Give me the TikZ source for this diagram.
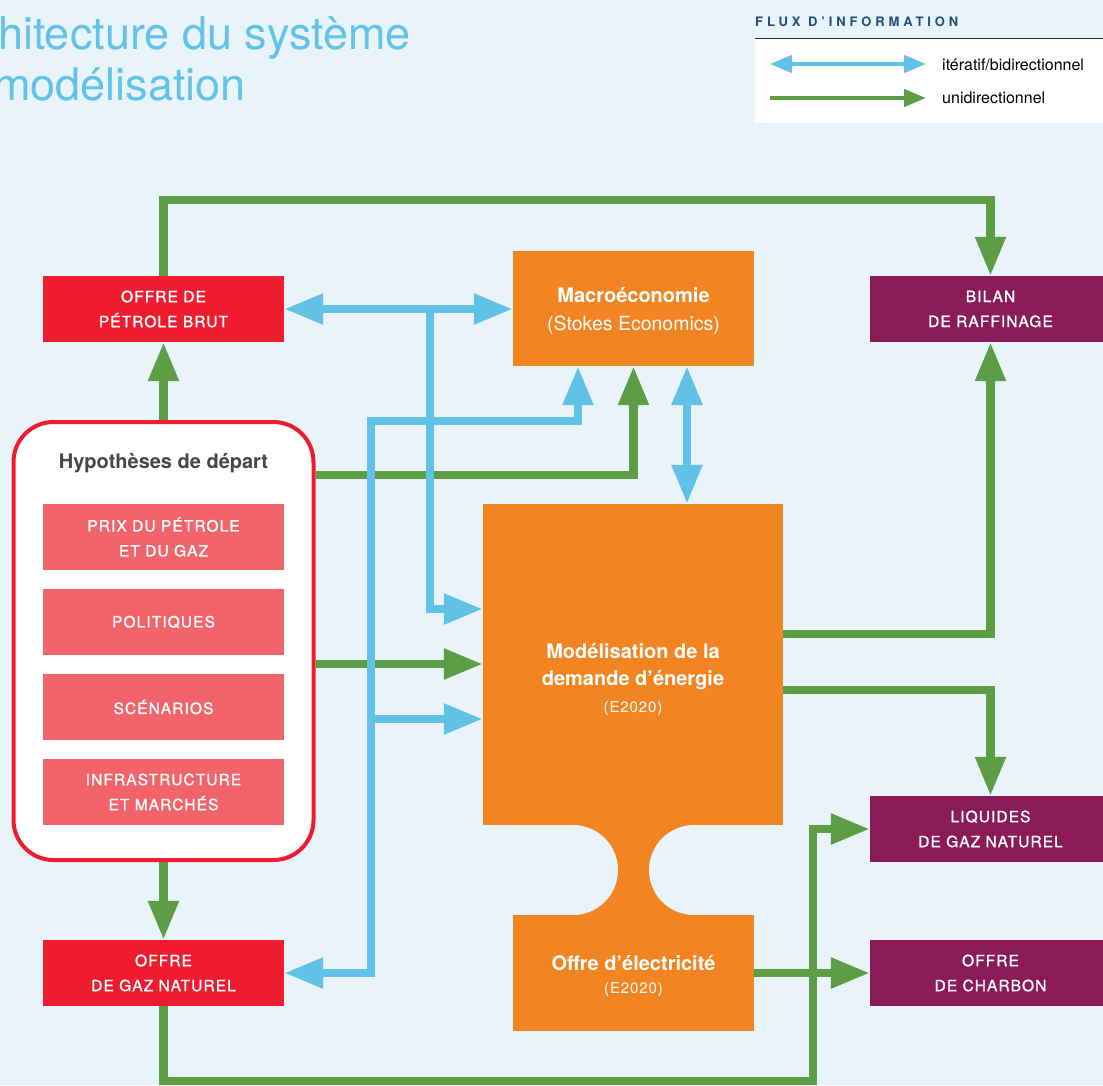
\documentclass[tikz,border=0pt]{standalone}
\usepackage{fontspec}
\setmainfont{TeX Gyre Heros}
\newfontfamily\capsf[LetterSpace=7,FakeBold=1.2]{TeX Gyre Heros}
\newfontfamily\legf[LetterSpace=30]{TeX Gyre Heros}
\newfontfamily\smallf[LetterSpace=6]{TeX Gyre Heros}
\usetikzlibrary{arrows.meta}
\definecolor{bgc}{HTML}{E8F3FA}
\definecolor{bluec}{HTML}{61C1E6}
\definecolor{greenc}{HTML}{5C9D45}
\definecolor{redc}{HTML}{EE1C2E}
\definecolor{pinkc}{HTML}{F2636A}
\definecolor{orangec}{HTML}{F38422}
\definecolor{purplec}{HTML}{8A1B56}
\definecolor{titlec}{HTML}{62C3E8}
\definecolor{legc}{HTML}{1E4F78}
\definecolor{hypc}{HTML}{464646}
\tikzset{
  box/.style={inner sep=0pt, text=white, align=center, minimum width=241pt, minimum height=66pt},
  capsbox/.style={box, font=\capsf\fontsize{15.5}{25}\selectfont},
  bigtxt/.style={text=white, align=center, inner sep=0pt},
  tip/.style={-{Triangle[length=39pt,width=29pt]}},
  gline/.style={draw=greenc, line width=8.5pt},
  bline/.style={draw=bluec, line width=8.5pt},
  garrow/.style={gline, tip},
  barrow/.style={bline, tip},
  bboth/.style={bline, {Triangle[length=39pt,width=29pt]}-{Triangle[length=39pt,width=29pt]}},
}
\begin{document}
\begin{tikzpicture}[x=1pt,y=-1pt]
\useasboundingbox (0,0) rectangle (1103,1085);
\clip (0,0) rectangle (1103,1085);
\fill[bgc] (0,0) rectangle (1103,1085);

% title
\node[anchor=base east, text=titlec, inner sep=0pt, font=\fontsize{45}{50}\selectfont] (t1) at (411,49) {Architecture du système};
\node[anchor=base east, text=titlec, inner sep=0pt, font=\fontsize{45}{50}\selectfont] (t2) at (246,100) {de modélisation};

% legend
\node[anchor=base west, inner sep=0pt, text=legc, font=\legf\bfseries\fontsize{13}{14}\selectfont] (lt) at (755,26) {FLUX D’INFORMATION};
\fill[white] (755,39) rectangle (1103,123);
\draw[draw=black!85, line width=1.5pt] (755,38.5) -- (1103,38.5);
\coordinate (la1) at (770,64); \coordinate (la2) at (926,64);
\coordinate (lb1) at (770,98); \coordinate (lb2) at (926,98);
\draw[draw=bluec, line width=4.5pt, {Triangle[length=22pt,width=17pt]}-{Triangle[length=22pt,width=17pt]}] (la1) -- (la2);
\draw[draw=greenc, line width=4.5pt, -{Triangle[length=22pt,width=17pt]}] (lb1) -- (lb2);
\node[anchor=west, inner sep=0pt, font=\fontsize{16}{18}\selectfont] (l1) at (942,65) {itératif/bidirectionnel};
\node[anchor=west, inner sep=0pt, font=\fontsize{16}{18}\selectfont] (l2) at (942,98) {unidirectionnel};

% orange neck between demand model and electricity
\fill[orangec] (573,825) rectangle (694,915);
\fill[bgc] (573,870) circle[radius=45];
\fill[bgc] (694,870) circle[radius=45];

% nodes
\node[capsbox, fill=redc] (oil) at (163.5,309) {OFFRE DE\\PÉTROLE BRUT};
\node[box, fill=orangec, minimum height=115pt] (macro) at (633.5,308.5) {};
\node[bigtxt, font=\fontsize{19.5}{28}\selectfont] (macrot) at (633.5,311.5)
  {{\bfseries\fontsize{20}{28}\selectfont Macroéconomie}\\(Stokes Economics)};
\node[capsbox, fill=purplec] (bilan) at (990.5,309) {BILAN\\DE RAFFINAGE};

\node[draw=redc, line width=4pt, fill=white, rounded corners=40pt, minimum width=300pt, minimum height=438pt, inner sep=0pt] (hyp) at (163.5,641) {};
\node[inner sep=0pt, text=hypc, font=\bfseries\fontsize{20}{22}\selectfont] (hypt) at (163.5,463) {Hypothèses de départ};
\node[capsbox, fill=pinkc] (h1) at (163.5,537) {PRIX DU PÉTROLE\\ET DU GAZ};
\node[capsbox, fill=pinkc] (h2) at (163.5,622) {POLITIQUES};
\node[capsbox, fill=pinkc] (h3) at (163.5,707) {SCÉNARIOS};
\node[capsbox, fill=pinkc] (h4) at (163.5,792) {INFRASTRUCTURE\\ET MARCHÉS};

\node[box, fill=orangec, minimum width=300pt, minimum height=321pt] (model) at (633,664.5) {};
\node[bigtxt, font=\fontsize{20}{27}\selectfont] (modelt) at (633,679.5)
  {\bfseries Modélisation de la\\\bfseries demande d’énergie\\{\smallf\fontsize{15}{24}\selectfont (E2020)}};
\node[box, fill=orangec, minimum height=116pt] (elec) at (633.5,973) {};
\node[bigtxt, font=\fontsize{20}{23.5}\selectfont] (elect) at (633.5,976)
  {\bfseries Offre d’électricité\\{\smallf\fontsize{15}{23.5}\selectfont (E2020)}};

\node[capsbox, fill=purplec] (liq) at (990.5,829) {LIQUIDES\\DE GAZ NATUREL};
\node[capsbox, fill=purplec] (coal) at (990.5,973) {OFFRE\\DE CHARBON};
\node[capsbox, fill=redc] (gas) at (163.5,973) {OFFRE\\DE GAZ NATUREL};

% bend coordinates
\coordinate (g200) at (163.5,200);
\coordinate (g475) at (313,475);
\coordinate (g664) at (313,664);
\coordinate (g634) at (783,634);
\coordinate (g690) at (783,690);
\coordinate (gbot) at (813,1081);
\coordinate (b430) at (430,309);
\coordinate (b609) at (430,609);
\coordinate (bA) at (578,421);
\coordinate (bB) at (371,421);
\coordinate (b719) at (371,719);
\coordinate (b687) at (687,366);

% green connectors
\draw[garrow] (oil.north) -- (g200) -| (bilan.north);
\draw[garrow] (hyp.north) -- (oil.south);
\draw[garrow] (hyp.east |- g475) -| (macro.south);
\draw[garrow] (hyp.east |- g664) -- (model.west |- g664);
\draw[garrow] (hyp.south) -- (gas.north);
\draw[garrow] (gas.south) |- (gbot) |- (liq.west);
\draw[garrow] (model.east |- g634) -| (bilan.south);
\draw[garrow] (model.east |- g690) -| (liq.north);
\draw[garrow] (elec.east |- coal.west) -- (coal.west);

% blue connectors
\draw[bboth] (oil.east) -- (oil.east -| macro.west);
\draw[barrow] (b430) -- (b609) -- (model.west |- b609);
\draw[bboth] (macro.south -| bA) -- (bA) -- (bB) |- (gas.east);
\draw[barrow] (b719) -- (model.west |- b719);
\draw[bboth] (b687) -- (model.north -| b687);
\end{tikzpicture}
\end{document}
